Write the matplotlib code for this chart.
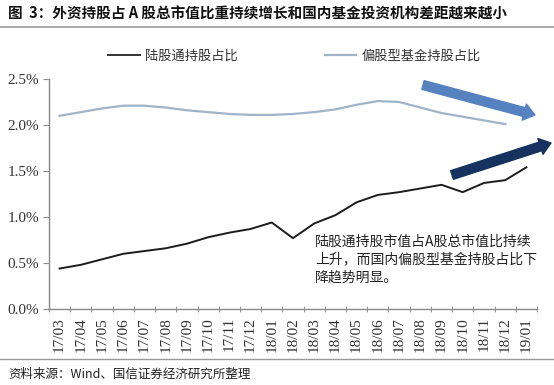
from matplotlib import pyplot as plt
from matplotlib.lines import Line2D
import numpy as np

plt.rcParams['font.family'] = ['Noto Sans CJK SC', 'DejaVu Sans']

months = ["17/03", "17/04", "17/05", "17/06", "17/07", "17/08", "17/09", "17/10",
          "17/11", "17/12", "18/01", "18/02", "18/03", "18/04", "18/05", "18/06",
          "18/07", "18/08", "18/09", "18/10", "18/11", "18/12", "19/01"]

# 陆股通持股占比 (%)
hk_connect = [0.44, 0.48, 0.54, 0.60, 0.63, 0.66, 0.71, 0.78, 0.83, 0.87, 0.94, 0.77,
              0.93, 1.02, 1.16, 1.24, 1.27, 1.31, 1.35, 1.27, 1.37, 1.40, 1.54]
# 偏股型基金持股占比 (%), ends at 18/12
equity_fund = [2.10, 2.14, 2.18, 2.21, 2.21, 2.19, 2.16, 2.14, 2.12, 2.11, 2.11, 2.12,
               2.14, 2.17, 2.22, 2.26, 2.25, 2.19, 2.13, 2.09, 2.05, 2.01]

W, H = 554, 385
fig = plt.figure(figsize=(W / 100, H / 100), dpi=100)
ax = fig.add_axes([49 / W, (H - 309) / H, (537 - 49) / W, (309 - 79) / H])

x1 = np.arange(len(hk_connect))
x2 = np.arange(len(equity_fund))
l1, = ax.plot(x1, hk_connect, color="#1c1c1c", lw=1.4, solid_joinstyle='round')
l2, = ax.plot(x2, equity_fund, color="#9fb4c8", lw=1.6, solid_joinstyle='round')

ax.set_xlim(-0.5, len(months) - 0.5)
ax.set_ylim(0, 2.5)
ax.set_yticks([0, 0.5, 1.0, 1.5, 2.0, 2.5])
ax.set_yticklabels(["%.1f%%" % v for v in [0, 0.5, 1.0, 1.5, 2.0, 2.5]],
                   family="Liberation Serif", fontsize=11, color="#333333")
ax.set_xticks(x1)
ax.set_xticklabels(months, rotation=90, family="Liberation Serif", fontsize=11,
                   color="#333333", va='top')
ax.set_xticks(np.arange(-0.5, len(months)), minor=True)
ax.tick_params(axis='x', which='major', length=0, pad=6)
ax.tick_params(axis='x', which='minor', length=4, direction='inout', color="#888888")
ax.tick_params(axis='y', length=4, direction='out', color="#888888", pad=3)

for s in ['top', 'right']:
    ax.spines[s].set_visible(False)
for s in ['left', 'bottom']:
    ax.spines[s].set_color("#888888")
    ax.spines[s].set_linewidth(1.0)

# legend placed above the plot
fig.legend([Line2D([], [], color="#333333", lw=1.4), l2],
           ["陆股通持股占比", "偏股型基金持股占比"],
           loc='center left', bbox_to_anchor=(96 / W, (H - 56) / H), ncol=2,
           frameon=False, fontsize=9.5, handlelength=2.4, handletextpad=0.4,
           columnspacing=6.6, labelcolor="#333333")

# trend arrows
ax.annotate('', xy=(535, H - 115), xytext=(423, H - 85), xycoords='figure pixels',
            textcoords='figure pixels',
            arrowprops=dict(arrowstyle='simple,head_width=1.2,head_length=0.8,tail_width=0.65',
                            color="#5683c0", shrinkA=0, shrinkB=0))
ax.annotate('', xy=(551, H - 143), xytext=(452, H - 175), xycoords='figure pixels',
            textcoords='figure pixels',
            arrowprops=dict(arrowstyle='simple,head_width=1.2,head_length=0.8,tail_width=0.65',
                            color="#15335e", shrinkA=0, shrinkB=0))

fig.text(315 / W, (H - 235) / H,
         "陆股通持股市值占A股总市值比持续\n上升，而国内偏股型基金持股占比下\n降趋势明显。",
         fontsize=10, color="#222222", va='top', ha='left', linespacing=1.35)

# title and source
fig.text(8 / W, (H - 14) / H,
         "图  3：外资持股占 A 股总市值比重持续增长和国内基金投资机构差距越来越小",
         fontsize=10.5, fontweight='bold', color="#111111", va='center', ha='left')
fig.add_artist(Line2D([0, 1], [(H - 27) / H] * 2, color="#999999", lw=1.2))
fig.add_artist(Line2D([0, 1], [(H - 359) / H] * 2, color="#999999", lw=1.0))
fig.text(8 / W, (H - 374) / H, "资料来源：Wind、国信证券经济研究所整理",
         fontsize=9, color="#222222", va='center', ha='left')

fig.savefig("out.png", dpi=100)
